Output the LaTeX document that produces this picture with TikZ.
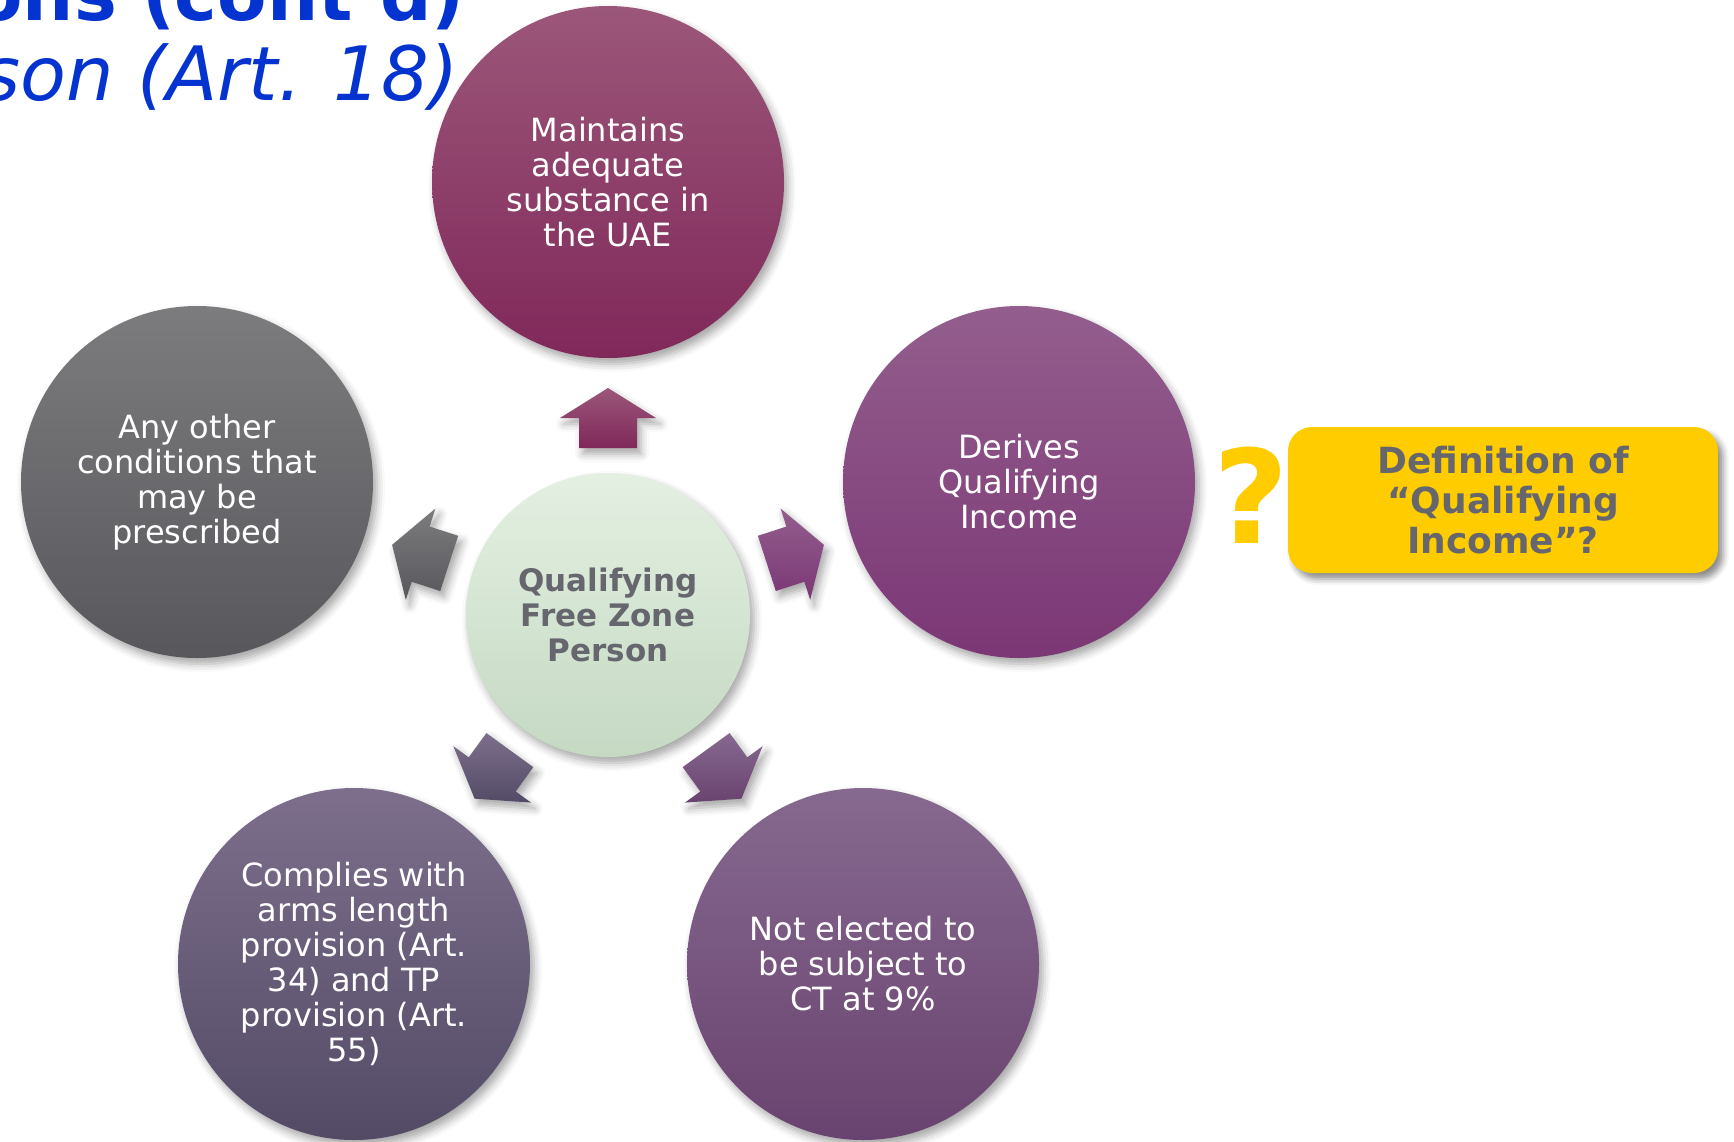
\documentclass[tikz,border=0pt]{standalone}
\usepackage{fontspec}
\setmainfont{DejaVu Sans}[BoldFont={DejaVu Sans Bold},ItalicFont={DejaVu Sans Oblique},BoldItalicFont={DejaVu Sans Bold Oblique}]
\usetikzlibrary{calc,shadows.blur}

\definecolor{titleblue}{HTML}{0433D0}
\definecolor{textgrey}{HTML}{66666E}
\definecolor{qyellow}{HTML}{FFCC00}
\definecolor{topA}{HTML}{9B5779}\definecolor{topB}{HTML}{80285A}
\definecolor{rightA}{HTML}{935E8D}\definecolor{rightB}{HTML}{7B3775}
\definecolor{leftA}{HTML}{7C7C7E}\definecolor{leftB}{HTML}{58575C}
\definecolor{blA}{HTML}{7D6F8C}\definecolor{blB}{HTML}{534B66}
\definecolor{brA}{HTML}{86698F}\definecolor{brB}{HTML}{69436F}
\definecolor{hubA}{HTML}{E4F0E2}\definecolor{hubB}{HTML}{C5D9C3}

\tikzset{
  softshadow/.style={blur shadow={shadow xshift=2pt,shadow yshift=-3pt,
      shadow blur radius=4pt,shadow opacity=35}},
  bubble/.style={circle,minimum size=176pt,inner sep=0pt,align=center,
      text=white,font=\fontsize{16}{17.5}\selectfont,softshadow},
  hub/.style={circle,minimum size=142pt,inner sep=0pt,align=center,
      text=textgrey,font=\fontsize{15.5}{17.5}\selectfont\bfseries,
      top color=hubA,bottom color=hubB,softshadow},
  notebox/.style={rectangle,rounded corners=12pt,minimum width=215pt,
      minimum height=73pt,fill=qyellow,align=center,text=textgrey,
      font=\fontsize{18}{20}\selectfont\bfseries,
      blur shadow={shadow xshift=2.5pt,shadow yshift=-3pt,
      shadow blur radius=3pt,shadow opacity=45}},
}

\begin{document}
\begin{tikzpicture}[x=0.5pt,y=-0.5pt]
\useasboundingbox (0,0) rectangle (1734,1141);
\clip (0,0) rectangle (1734,1141);

\coordinate (c) at (608,615);

% block arrows pointing from the hub to each condition
\foreach \a/\ct/\cb in {-90/topA/topB,-18/rightA/rightB,-162/leftA/leftB,54/brA/brB,126/blA/blB}{
  \path[softshadow,top color=\ct,bottom color=\cb]
    ($(c)+(\a:227)$) -- ($(c)+(\a:197)+(\a+90:48)$) -- ($(c)+(\a:197)+(\a+90:29)$)
    -- ($(c)+(\a:167)+(\a+90:29)$) -- ($(c)+(\a:167)+(\a-90:29)$)
    -- ($(c)+(\a:197)+(\a-90:29)$) -- ($(c)+(\a:197)+(\a-90:48)$) -- cycle;
}

% hub
\node[hub] (hub) at (c) {Qualifying\\Free Zone\\Person};

% conditions
\node[bubble,top color=topA,bottom color=topB] (subst) at (608,182)
  {Maintains\\adequate\\substance in\\the UAE};
\node[bubble,top color=rightA,bottom color=rightB] (income) at (1019,482)
  {Derives\\Qualifying\\Income};
\node[bubble,top color=leftA,bottom color=leftB] (other) at (197,482)
  {Any other\\conditions that\\may be\\prescribed};
\node[bubble,top color=blA,bottom color=blB] (arms) at (354,964)
  {Complies with\\arms length\\provision (Art.\\34) and TP\\provision (Art.\\55)};
\node[bubble,top color=brA,bottom color=brB] (elect) at (863,964)
  {Not elected to\\be subject to\\CT at 9\%};

% question about qualifying income
\node[text=qyellow,font=\fontsize{65}{65}\selectfont\bfseries,inner sep=0pt] (qmark) at (1251,495) {?};
\node[notebox] (defn) at (1503,500) {Definition of\\“Qualifying\\Income”?};

% heading
\node[anchor=base east,inner sep=0pt,text=titleblue,font=\fontsize{36}{36}\selectfont\bfseries] (head1) at (465,20) {ons (cont’d)};
\node[anchor=base east,inner sep=0pt,text=titleblue,font=\fontsize{37.5}{37.5}\selectfont\itshape] (head2) at (459,100) {son (Art. 18)};
\end{tikzpicture}
\end{document}
